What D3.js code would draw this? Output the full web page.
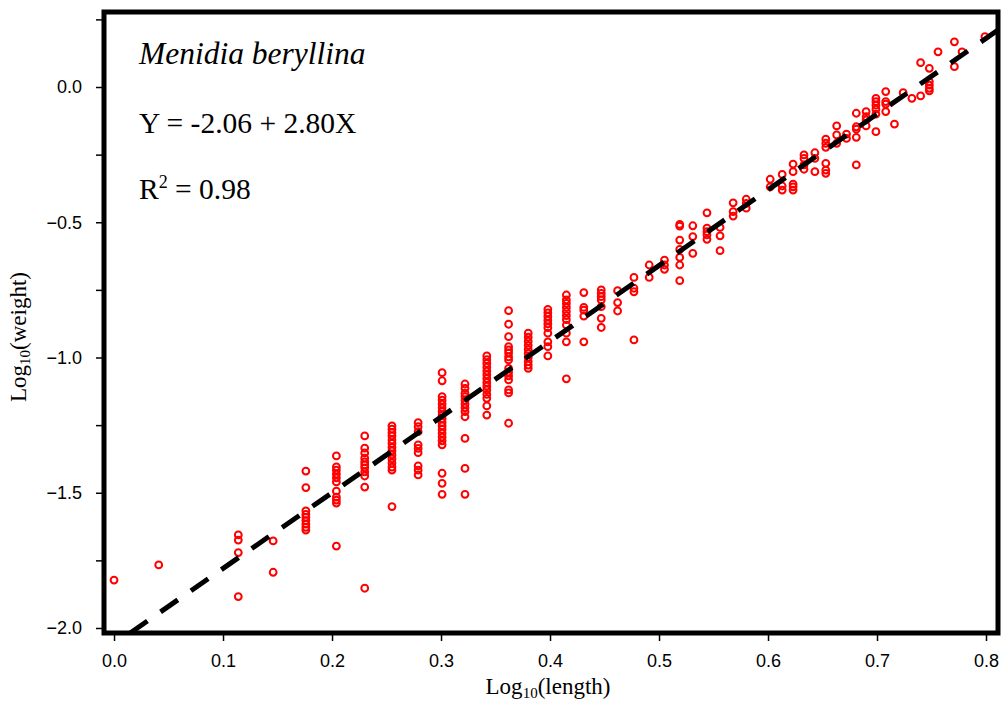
<!DOCTYPE html>
<html>
<head>
<meta charset="utf-8">
<script src="https://cdn.jsdelivr.net/npm/d3@7"></script>
<style>
  body { margin: 0; background: #fff; }
  .axis text { font-family: "Liberation Sans", Arial, sans-serif; font-size: 18px; fill: #000; }
  .axis line { stroke: #000; stroke-width: 1.5; }
  .axis-title { font-family: "Liberation Serif", "Times New Roman", serif; font-size: 23px; fill: #000; }
  .note { font-family: "Liberation Serif", "Times New Roman", serif; font-size: 29.5px; fill: #000; }
</style>
</head>
<body>
<svg id="chart"></svg>
<script>
// Log10(length) of each measured size class
const logLength = [0.000, 0.041, 0.114, 0.146, 0.176, 0.204, 0.230, 0.255, 0.279, 0.301,
  0.322, 0.342, 0.362, 0.380, 0.398, 0.415, 0.431, 0.447, 0.462, 0.477,
  0.491, 0.505, 0.519, 0.531, 0.544, 0.556, 0.568, 0.580, 0.602, 0.613,
  0.623, 0.633, 0.643, 0.653, 0.663, 0.672, 0.681, 0.690, 0.699, 0.708,
  0.716, 0.724, 0.732, 0.740, 0.748, 0.756, 0.771, 0.778, 0.799];

// Log10(weight) of the fish in each size class (same order as logLength)
const logWeight = [
  [-1.823],
  [-1.767],
  [-1.656, -1.675, -1.721, -1.884],
  [-1.678, -1.794],
  [-1.420, -1.481, -1.567, -1.580, -1.591, -1.603, -1.616, -1.628, -1.638],
  [-1.364, -1.404, -1.416, -1.431, -1.445, -1.460, -1.494, -1.516, -1.527, -1.538, -1.697],
  [-1.290, -1.335, -1.353, -1.372, -1.386, -1.397, -1.408, -1.423, -1.438, -1.479, -1.853],
  [-1.253, -1.265, -1.278, -1.290, -1.305, -1.318, -1.332, -1.345, -1.360, -1.375, -1.390, -1.405, -1.416, -1.551],
  [-1.241, -1.256, -1.274, -1.323, -1.336, -1.352, -1.401, -1.416, -1.434],
  [-1.056, -1.086, -1.145, -1.158, -1.172, -1.186, -1.200, -1.213, -1.226, -1.240, -1.253, -1.266, -1.280, -1.294, -1.308, -1.323, -1.428, -1.465, -1.506],
  [-1.098, -1.114, -1.132, -1.145, -1.158, -1.172, -1.186, -1.200, -1.219, -1.299, -1.410, -1.506],
  [-0.994, -1.008, -1.022, -1.036, -1.050, -1.064, -1.078, -1.092, -1.106, -1.120, -1.136, -1.151, -1.179, -1.213],
  [-0.827, -0.877, -0.923, -0.960, -0.972, -0.983, -0.998, -1.009, -1.040, -1.054, -1.068, -1.083, -1.120, -1.131, -1.243],
  [-0.910, -0.925, -0.940, -0.955, -0.970, -0.985, -1.000, -1.015, -1.028, -1.040],
  [-0.822, -0.835, -0.848, -0.862, -0.876, -0.890, -0.910, -0.942, -0.960, -0.994],
  [-0.769, -0.787, -0.800, -0.815, -0.830, -0.845, -0.860, -0.880, -0.910, -0.942, -1.079],
  [-0.760, -0.815, -0.825, -0.847, -0.942],
  [-0.750, -0.763, -0.775, -0.787, -0.812, -0.855, -0.889],
  [-0.753, -0.797, -0.828],
  [-0.704, -0.744, -0.757, -0.935],
  [-0.658, -0.704],
  [-0.640, -0.658, -0.674],
  [-0.508, -0.514, -0.566, -0.600, -0.630, -0.658, -0.716],
  [-0.513, -0.553, -0.615],
  [-0.465, -0.522, -0.535, -0.547, -0.563],
  [-0.519, -0.550, -0.605],
  [-0.428, -0.461, -0.477],
  [-0.415, -0.430, -0.448],
  [-0.341, -0.369],
  [-0.323, -0.366, -0.381],
  [-0.285, -0.313, -0.359, -0.369, -0.381],
  [-0.251, -0.264, -0.288, -0.304],
  [-0.243, -0.264, -0.313],
  [-0.193, -0.208, -0.223, -0.282, -0.307, -0.319],
  [-0.144, -0.177, -0.208],
  [-0.174, -0.190],
  [-0.097, -0.147, -0.156, -0.186, -0.288],
  [-0.091, -0.110, -0.122, -0.144],
  [-0.042, -0.054, -0.067, -0.082, -0.100, -0.165],
  [-0.017, -0.054, -0.063, -0.091],
  [-0.137],
  [-0.021],
  [-0.042],
  [0.090, -0.033],
  [0.069, 0.020, 0.007, -0.005, -0.014],
  [0.130],
  [0.167, 0.075],
  [0.130],
  [0.186]
];

// Fitted regression Y = a + bX
const intercept = -2.06;
const slope = 2.80;
const rSquared = '0.98';
const species = 'Menidia beryllina';

const xTicks = [0, 0.1, 0.2, 0.3, 0.4, 0.5, 0.6, 0.7, 0.8];
const yTicks = [-2, -1.75, -1.5, -1.25, -1, -0.75, -0.5, -0.25, 0, 0.25];

const containerWidth = 1004, containerHeight = 704;
const margin = {top: 12, right: 6, bottom: 71, left: 104};
const width = containerWidth - margin.left - margin.right;
const height = containerHeight - margin.top - margin.bottom;

const svg = d3.select('#chart')
    .attr('width', containerWidth)
    .attr('height', containerHeight);

const chart = svg.append('g')
    .attr('transform', `translate(${margin.left},${margin.top})`);

// Scales: the domain is the inside of the frame
const xScale = d3.scaleLinear()
    .domain([-0.0092, 0.811])
    .range([0, width]);

const yScale = d3.scaleLinear()
    .domain([-2.0185, 0.2773])
    .range([height, 0]);

// Axes (y labels only on the half units)
const xAxis = d3.axisBottom(xScale)
    .tickValues(xTicks)
    .tickFormat(d3.format('.1f'))
    .tickSize(6)
    .tickPadding(13)
    .tickSizeOuter(0);

const yAxis = d3.axisLeft(yScale)
    .tickValues(yTicks)
    .tickFormat(d => (Math.abs(d * 2 - Math.round(d * 2)) < 1e-9 && d <= 0) ? d3.format('.1f')(d) : '')
    .tickSize(6)
    .tickPadding(14)
    .tickSizeOuter(0);

chart.append('g')
    .attr('class', 'axis x-axis')
    .attr('transform', `translate(0,${height + 2})`)
    .call(xAxis)
    .call(g => g.select('.domain').remove());

chart.append('g')
    .attr('class', 'axis y-axis')
    .attr('transform', 'translate(-2,0)')
    .call(yAxis)
    .call(g => g.select('.domain').remove());

// Points
const points = logLength.flatMap((x, i) => logWeight[i].map(y => ({x, y})));

chart.selectAll('.point')
    .data(points)
  .join('circle')
    .attr('class', 'point')
    .attr('cx', d => xScale(d.x))
    .attr('cy', d => yScale(d.y))
    .attr('r', 3.4)
    .attr('fill', 'none')
    .attr('stroke', '#ff0000')
    .attr('stroke-width', 2);

// Regression line, clipped to the frame
const yLow = yScale.domain()[0];
const xStart = (yLow - intercept) / slope;
const xEnd = xScale.domain()[1];
chart.append('line')
    .attr('x1', xScale(xStart))
    .attr('y1', yScale(yLow))
    .attr('x2', xScale(xEnd))
    .attr('y2', yScale(intercept + slope * xEnd))
    .attr('stroke', '#000')
    .attr('stroke-width', 5)
    .attr('stroke-dasharray', '21,16');

// Frame
chart.append('rect')
    .attr('x', 0)
    .attr('y', 0)
    .attr('width', width)
    .attr('height', height)
    .attr('fill', 'none')
    .attr('stroke', '#000')
    .attr('stroke-width', 5);

// Annotations
svg.append('text')
    .attr('class', 'note')
    .attr('x', 139)
    .attr('y', 64)
    .style('font-style', 'italic')
    .style('font-size', '31.5px')
    .text(species);

svg.append('text')
    .attr('class', 'note')
    .attr('x', 139)
    .attr('y', 133)
    .text(`Y = ${intercept.toFixed(2)} + ${slope.toFixed(2)}X`);

const r2 = svg.append('text')
    .attr('class', 'note')
    .attr('x', 139)
    .attr('y', 199);
r2.append('tspan').text('R');
r2.append('tspan').attr('dy', -11).style('font-size', '18px').text('2');
r2.append('tspan').attr('dy', 11).text(` = ${rSquared}`);

// Axis titles
const xt = svg.append('text')
    .attr('class', 'axis-title')
    .attr('x', 548)
    .attr('y', 694)
    .attr('text-anchor', 'middle');
xt.append('tspan').text('Log');
xt.append('tspan').attr('dy', 4).style('font-size', '15px').text('10');
xt.append('tspan').attr('dy', -4).text('(length)');

const yt = svg.append('text')
    .attr('class', 'axis-title')
    .attr('transform', 'translate(26,337) rotate(-90)')
    .attr('text-anchor', 'middle');
yt.append('tspan').text('Log');
yt.append('tspan').attr('dy', 4).style('font-size', '15px').text('10');
yt.append('tspan').attr('dy', -4).text('(weight)');
</script>
</body>
</html>
